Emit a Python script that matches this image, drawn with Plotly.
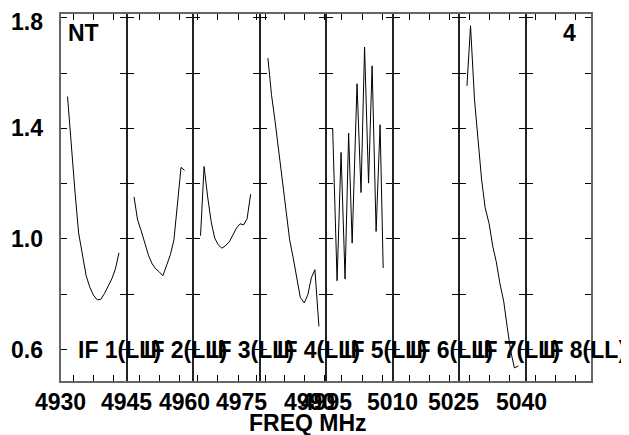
import plotly.graph_objects as go
from plotly.subplots import make_subplots

# one panel per IF, each with its own frequency axis (MHz)
if_names = ["IF 1(LL)", "IF 2(LL)", "IF 3(LL)", "IF 4(LL)", "IF 5(LL)", "IF 6(LL)", "IF 7(LL)", "IF 8(LL)"]
if_ranges = [[4930, 4945], [4947, 4962], [4964, 4979], [4978.8, 4993.8],
             [4995, 5010], [5011.3, 5026.3], [5026, 5041], [5042, 5057]]
if_labels = [[4930, 4945], [4960], [4975], [4990], [4995, 5010], [5025], [5040], []]
if_ticks = [[4933.0, 4937.5, 4942.0], [4950.0, 4954.5, 4959.0],
            [4965.1, 4969.6, 4974.2, 4978.4], [4980.2, 4984.4, 4989.0, 4993.5],
            [4998.4, 5003.3, 5007.8], [5015.1, 5019.6, 5024.1],
            [5028.3, 5032.8, 5037.3], [5044.3, 5048.8, 5053.3]]

freq_if1 = [4931.7, 4932.5, 4933.4, 4934.2, 4935.0, 4935.9, 4936.7, 4937.5,
            4938.4, 4939.2, 4940.0, 4940.8, 4941.7, 4942.5, 4943.3]
amp_if1 = [1.515, 1.337, 1.167, 1.022, 0.943, 0.867, 0.827, 0.798,
           0.780, 0.782, 0.802, 0.828, 0.856, 0.892, 0.950]

freq_if2 = [4948.7, 4949.5, 4950.3, 4951.2, 4952.0, 4952.8, 4953.6, 4954.4,
            4955.2, 4956.1, 4956.9, 4957.7, 4958.5, 4959.3, 4960.1]
amp_if2 = [1.152, 1.069, 1.030, 0.982, 0.939, 0.910, 0.892, 0.881,
           0.867, 0.907, 0.943, 0.997, 1.130, 1.259, 1.248]

freq_if3 = [4965.7, 4966.5, 4967.3, 4968.1, 4968.9, 4969.7, 4970.5, 4971.3,
            4972.2, 4973.0, 4973.8, 4974.6, 4975.4, 4976.2, 4977.0]
amp_if3 = [1.012, 1.262, 1.153, 1.062, 1.003, 0.979, 0.967, 0.975,
           0.990, 1.012, 1.039, 1.055, 1.051, 1.073, 1.162]

freq_if4 = [4980.7, 4981.5, 4982.3, 4983.1, 4984.0, 4984.8, 4985.6, 4986.4,
            4987.2, 4988.0, 4988.9, 4989.7, 4990.5, 4991.3, 4992.2]
amp_if4 = [1.654, 1.522, 1.427, 1.323, 1.221, 1.116, 0.997, 0.932,
           0.859, 0.789, 0.769, 0.798, 0.860, 0.889, 0.684]

freq_if5 = [4996.5, 4997.5, 4998.4, 4999.3, 5000.1, 5000.9, 5002.0,
            5002.9, 5003.7, 5004.6, 5005.4, 5006.3, 5007.2, 5007.9]
amp_if5 = [1.401, 0.849, 1.313, 0.855, 1.383, 0.985, 1.561,
           1.168, 1.694, 1.202, 1.626, 1.027, 1.413, 0.895]

freq_if7 = [5027.8, 5028.6, 5029.5, 5030.3, 5031.1, 5031.9, 5032.8, 5033.6,
            5034.4, 5035.2, 5036.1, 5036.9, 5037.7, 5038.5, 5039.4]
amp_if7 = [1.554, 1.771, 1.503, 1.359, 1.214, 1.113, 1.055, 0.975,
           0.918, 0.842, 0.773, 0.679, 0.592, 0.534, 0.541]

# IF 6 and IF 8 have no data
spectra = {1: (freq_if1, amp_if1), 2: (freq_if2, amp_if2), 3: (freq_if3, amp_if3),
           4: (freq_if4, amp_if4), 5: (freq_if5, amp_if5), 6: ([], []),
           7: (freq_if7, amp_if7), 8: ([], [])}

y_ticks = [0.6, 0.8, 1.0, 1.2, 1.4, 1.6, 1.8]
y_labels = [0.6, 1.0, 1.4, 1.8]

font_name = "Liberation Sans, Arial, sans-serif"
bold = dict(family=font_name, size=23, color="black", weight="bold")

fig = make_subplots(rows=1, cols=8, shared_yaxes=True, horizontal_spacing=0)

for i in range(8):
    col = i + 1
    f, a = spectra[col]
    fig.add_trace(go.Scatter(x=f, y=a, mode="lines", showlegend=False,
                             line=dict(color="black", width=1)), row=1, col=col)
    fig.update_xaxes(range=if_ranges[i], tickvals=if_ticks[i], showticklabels=False,
                     ticks="inside", ticklen=7, tickcolor="black", tickwidth=1,
                     showgrid=False, zeroline=False, automargin=False,
                     showline=True, linecolor="#222", linewidth=1, mirror="ticks",
                     row=1, col=col)
    fig.update_yaxes(range=[0.483, 1.817], tickvals=y_ticks, showticklabels=False,
                     ticks="inside", ticklen=7, tickcolor="black", tickwidth=1,
                     showgrid=False, zeroline=False, automargin=False,
                     showline=True, linecolor="#222", linewidth=1, mirror="ticks",
                     row=1, col=col)
    xname = "x" if col == 1 else "x%d" % col
    # frequency labels of this IF, placed on its own axis
    for v in if_labels[i]:
        fig.add_annotation(text=str(v), xref=xname, x=v, xanchor="center",
                           yref="paper", y=-0.054, yanchor="middle",
                           showarrow=False, font=bold)
    fig.add_annotation(text=if_names[i], xref=xname + " domain", x=0.24,
                       xanchor="left", yref="y", y=0.6, yanchor="middle",
                       showarrow=False, font=bold)

# amplitude labels on the left, top one nudged down to stay on the page
for v in y_labels:
    fig.add_annotation(text="%.1f" % v, xref="paper", x=-0.028, xanchor="right",
                       yref="y", y=v, yanchor="middle", yshift=-4 if v == 1.8 else 0,
                       showarrow=False, font=bold)

# gray outer frame
fig.add_shape(type="rect", xref="paper", yref="paper", x0=0, x1=1, y0=0, y1=1,
              line=dict(color="#666", width=2))

fig.add_annotation(text="NT", xref="paper", yref="paper", x=0.011, y=0.947,
                   xanchor="left", yanchor="middle", showarrow=False, font=bold)
fig.add_annotation(text="4", xref="paper", yref="paper", x=0.958, y=0.947,
                   xanchor="center", yanchor="middle", showarrow=False, font=bold)
fig.add_annotation(text="FREQ MHz", xref="paper", yref="paper", x=0.466, y=-0.111,
                   xanchor="center", yanchor="middle", showarrow=False, font=bold)

# the page puts the figure 8 px in from the top-left corner
fig.update_layout(width=621, height=427, margin=dict(l=52, r=37, t=5, b=53),
                  plot_bgcolor="white", paper_bgcolor="white",
                  font=dict(family=font_name, size=23, color="black"))

fig.write_html("out.html")
